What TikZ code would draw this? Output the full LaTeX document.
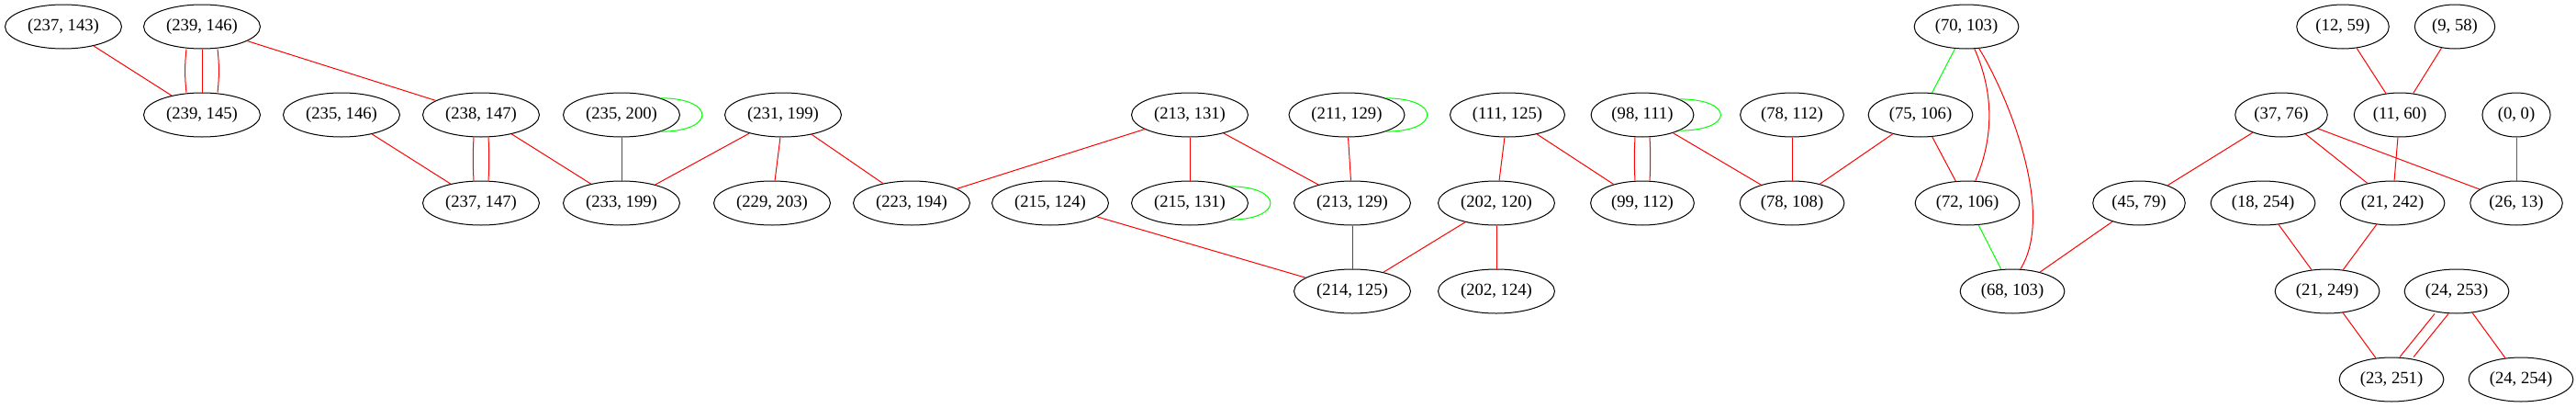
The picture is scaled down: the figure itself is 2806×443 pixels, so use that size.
\documentclass[tikz,border=0pt]{standalone}
\usepackage{fontspec}
\setmainfont{Liberation Serif}
\usetikzlibrary{shapes.geometric}
\definecolor{linkred}{RGB}{255,0,0}
\definecolor{linkgreen}{RGB}{0,255,0}
\definecolor{linkpurple}{RGB}{160,32,240}

\begin{document}
\begin{tikzpicture}[
    x=0.75pt, y=-0.75pt,
    vert/.style={
      draw, ellipse, line width=0.75pt,
      minimum height=36pt, minimum width=54pt,
      inner xsep=4.5pt, inner ysep=0pt,
      font=\fontsize{14}{16}\selectfont},
    link/.style={draw=linkred, line width=0.75pt},
    same/.style={draw=linkgreen, line width=0.75pt},
    odd/.style={draw=linkpurple, line width=0.75pt},
  ]
  \useasboundingbox (0,0) rectangle (2806,443);

  % ── Rank 1 ──
  \node[vert] (p237x143) at (69,29)   {(237, 143)};
  \node[vert] (p239x146) at (220,29)  {(239, 146)};
  \node[vert] (p70x103)  at (2142,29) {(70, 103)};
  \node[vert] (p12x59)   at (2552,29) {(12, 59)};
  \node[vert] (p9x58)    at (2674,29) {(9, 58)};

  % ── Rank 2 ──
  \node[vert] (p239x145) at (220,125)  {(239, 145)};
  \node[vert] (p235x146) at (372,125)  {(235, 146)};
  \node[vert] (p238x147) at (524,125)  {(238, 147)};
  \node[vert] (p235x200) at (677,125)  {(235, 200)};
  \node[vert] (p231x199) at (853,125)  {(231, 199)};
  \node[vert] (p213x131) at (1296,125) {(213, 131)};
  \node[vert] (p211x129) at (1467,125) {(211, 129)};
  \node[vert] (p111x125) at (1642,125) {(111, 125)};
  \node[vert] (p98x111)  at (1789,125) {(98, 111)};
  \node[vert] (p78x112)  at (1952,125) {(78, 112)};
  \node[vert] (p75x106)  at (2092,125) {(75, 106)};
  \node[vert] (p37x76)   at (2485,125) {(37, 76)};
  \node[vert] (p11x60)   at (2614,125) {(11, 60)};
  \node[vert] (p0x0)     at (2741,125) {(0, 0)};

  % ── Rank 3 ──
  \node[vert] (p237x147) at (524,221)  {(237, 147)};
  \node[vert] (p233x199) at (677,221)  {(233, 199)};
  \node[vert] (p229x203) at (841,221)  {(229, 203)};
  \node[vert] (p223x194) at (993,221)  {(223, 194)};
  \node[vert] (p215x124) at (1144,221) {(215, 124)};
  \node[vert] (p215x131) at (1296,221) {(215, 131)};
  \node[vert] (p213x129) at (1473,221) {(213, 129)};
  \node[vert] (p202x120) at (1630,221) {(202, 120)};
  \node[vert] (p99x112)  at (1789,221) {(99, 112)};
  \node[vert] (p78x108)  at (1952,221) {(78, 108)};
  \node[vert] (p72x106)  at (2143,221) {(72, 106)};
  \node[vert] (p45x79)   at (2330,221) {(45, 79)};
  \node[vert] (p18x254)  at (2465,221) {(18, 254)};
  \node[vert] (p21x242)  at (2606,221) {(21, 242)};
  \node[vert] (p26x13)   at (2741,221) {(26, 13)};

  % ── Rank 4 ──
  \node[vert] (p214x125) at (1473,317) {(214, 125)};
  \node[vert] (p202x124) at (1630,317) {(202, 124)};
  \node[vert] (p68x103)  at (2192,317) {(68, 103)};
  \node[vert] (p21x249)  at (2535,317) {(21, 249)};
  \node[vert] (p24x253)  at (2676,317) {(24, 253)};

  % ── Rank 5 ──
  \node[vert] (p23x251)  at (2605,413) {(23, 251)};
  \node[vert] (p24x254)  at (2746,413) {(24, 254)};

  % ── Left block ──
  \draw[link] (p237x143) -- (p239x145);
  \draw[link] ([xshift=-12.75pt]p239x146.south) to[bend right=6] ([xshift=-12.75pt]p239x145.north);
  \draw[link] (p239x146) -- (p239x145);
  \draw[link] ([xshift=12.75pt]p239x146.south) to[bend left=6] ([xshift=12.75pt]p239x145.north);
  \draw[link] (p239x146) -- (p238x147);
  \draw[link] (p235x146) -- (p237x147);
  \draw[link] ([xshift=-6pt]p238x147.south) to[bend right=3] ([xshift=-6pt]p237x147.north);
  \draw[link] ([xshift=6pt]p238x147.south) to[bend left=3] ([xshift=6pt]p237x147.north);
  \draw[link] (p238x147) -- (p233x199);
  \draw[link] (p235x200) -- (p233x199);
  \draw[same] (p235x200.23) .. controls +(60,0) and +(60,0) .. (p235x200.-23);
  \draw[link] (p231x199) -- (p233x199);
  \draw[link] (p231x199) -- (p229x203);
  \draw[link] (p231x199) -- (p223x194);

  % ── Middle block ──
  \draw[link] (p213x131) -- (p223x194);
  \draw[link] (p213x131) -- (p215x131);
  \draw[link] (p213x131) -- (p213x129);
  \draw[same] (p215x131.23) .. controls +(60,0) and +(60,0) .. (p215x131.-23);
  \draw[same] (p211x129.23) .. controls +(60,0) and +(60,0) .. (p211x129.-23);
  \draw[link] (p211x129) -- (p213x129);
  \draw[link] (p215x124) -- (p214x125);
  \draw[link] (p213x129) -- (p214x125);
  \draw[link] (p202x120) -- (p214x125);
  \draw[link] (p111x125) -- (p202x120);
  \draw[link] (p111x125) -- (p99x112);
  \draw[link] (p202x120) -- (p202x124);
  \draw[same] (p98x111.23) .. controls +(60,0) and +(60,0) .. (p98x111.-23);
  \draw[link] ([xshift=-6pt]p98x111.south) to[bend right=3] ([xshift=-6pt]p99x112.north);
  \draw[link] ([xshift=6pt]p98x111.south) to[bend left=3] ([xshift=6pt]p99x112.north);
  \draw[link] (p98x111) -- (p78x108);
  \draw[link] (p78x112) -- (p78x108);
  \draw[link] (p75x106) -- (p78x108);

  % ── Right block ──
  \draw[same] (p70x103) -- (p75x106);
  \draw[link] (p70x103.-70) .. controls (2172,101) and (2172,149) .. (p72x106.70);
  \draw[link] (p70x103.-60) .. controls (2185,100) and (2240,230) .. (p68x103.70);
  \draw[link] (p75x106) -- (p72x106);
  \draw[same] (p72x106) -- (p68x103);
  \draw[link] (p45x79) -- (p68x103);
  \draw[link] (p37x76) -- (p45x79);
  \draw[link] (p37x76) -- (p21x242);
  \draw[link] (p37x76) -- (p26x13);
  \draw[link] (p12x59) -- (p11x60);
  \draw[link] (p9x58) -- (p11x60);
  \draw[link] (p11x60) -- (p21x242);
  \draw[odd]  (p0x0) -- (p26x13);
  \draw[link] (p18x254) -- (p21x249);
  \draw[link] (p21x242) -- (p21x249);
  \draw[link] (p21x249) -- (p23x251);
  \draw[link] ([xshift=-18pt]p24x253.south) -- ([xshift=6.75pt]p23x251.north);
  \draw[link] ([xshift=-6.75pt]p24x253.south) -- ([xshift=18pt]p23x251.north);
  \draw[link] (p24x253) -- (p24x254);

\end{tikzpicture}
\end{document}
